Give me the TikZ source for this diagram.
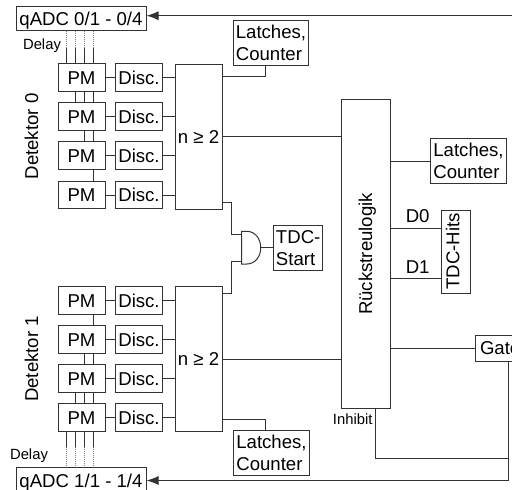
\documentclass[tikz,border=0pt]{standalone}
\usepackage{fontspec}
\setmainfont{Liberation Sans}
\usetikzlibrary{calc, arrows.meta}
\tikzset{
    wire/.style={line width=1pt, draw=black!80},
    delayline/.style={line width=1pt, draw=black!50, dash pattern=on 1pt off 1pt},
    box/.style={wire, rectangle, inner sep=0pt, font=\fontsize{18.6}{22}\selectfont, text height=13.4pt, text depth=0pt},
    pmbox/.style={box, minimum width=47pt, minimum height=27.5pt},
    latchbox/.style={wire, rectangle, inner sep=0pt, minimum width=75.5pt, minimum height=45pt, align=left, font=\fontsize{18.6}{22}\selectfont},
    label/.style={inner sep=0pt, font=\fontsize{18.6}{22}\selectfont, text height=13.4pt, text depth=0pt},
    smalllabel/.style={inner sep=0pt, font=\fontsize{14.8}{16}\selectfont, text height=10.6pt, text depth=0pt},
    arrowin/.style={wire, {Latex[length=12pt,width=9pt]}-},
}
\begin{document}
\begin{tikzpicture}[x=1pt, y=-1pt]
    \path[use as bounding box, clip] (0,0) rectangle (512,490);
    \fill[white] (0,0) rectangle (512,490);
    % qADC boxes
    \node[box, minimum width=130pt, minimum height=23.5pt] (qtop) at (81,18.5) {qADC 0/1 - 0/4};
    \node[box, minimum width=130pt, minimum height=27pt] (qbot) at (81,480.5) {qADC 1/1 - 1/4};
    % PMs and discriminators
    \foreach \name/\ypos in {a/77.5, b/116.5, c/155.5, d/195, e/300.5, f/339.5, g/378.5, h/417.5} {
        \node[pmbox] (pm\name) at (81.5,\ypos) {PM};
        \node[pmbox] (disc\name) at (139,\ypos) {Disc.};
        \draw[wire] (pm\name) -- (disc\name);
    }
    % Coincidence units
    \node[box, minimum width=47pt, minimum height=145pt] (ntop) at (198.5,136.5) {n ≥ 2};
    \node[box, minimum width=47pt, minimum height=144.5pt] (nbot) at (198.5,359) {n ≥ 2};
    \foreach \name in {a,b,c,d} \draw[wire] (disc\name) -- (ntop.west |- disc\name);
    \foreach \name in {e,f,g,h} \draw[wire] (disc\name) -- (nbot.west |- disc\name);
    % Delay lines
    \coordinate (dl1) at (66,48);
    \coordinate (dl2) at (75,48);
    \coordinate (dl3) at (84,48);
    \coordinate (dl4) at (93,48);
    \coordinate (dk1) at (66,447);
    \coordinate (dk2) at (75,447);
    \coordinate (dk3) at (84,447);
    \coordinate (dk4) at (93,447);
    \foreach \i in {1,2,3,4} {
        \draw[delayline] (qtop.south -| dl\i) -- (dl\i);
        \draw[wire] (dl\i) -- (dl\i |- pma.north);
        \draw[delayline] (dk\i) -- (dk\i |- qbot.north);
        \draw[wire] (dk\i) -- (dk\i |- pmh.south);
    }
    \foreach \i in {2,3,4} {
        \draw[wire] (dl\i |- pma.south) -- (dl\i |- pmb.north);
        \draw[wire] (dk\i |- pmg.south) -- (dk\i |- pmh.north);
    }
    \foreach \i in {3,4} {
        \draw[wire] (dl\i |- pmb.south) -- (dl\i |- pmc.north);
        \draw[wire] (dk\i |- pmf.south) -- (dk\i |- pmg.north);
    }
    \draw[wire] (dl4 |- pmc.south) -- (dl4 |- pmd.north);
    \draw[wire] (dk4 |- pme.south) -- (dk4 |- pmf.north);
    \node[smalllabel] (delaytop) at (42,44) {Delay};
    \node[smalllabel] (delaybot) at (29,454) {Delay};
    \node[label, rotate=90] (dettop) at (31.5,136.5) {Detektor 0};
    \node[label, rotate=90] (detbot) at (31.5,359) {Detektor 1};
    % Latches and counters
    \node[latchbox] (latchtop) at (271,42.5) {Latches,\\Counter};
    \node[latchbox] (latchbot) at (271.5,452.5) {Latches,\\Counter};
    \node[latchbox] (latchmid) at (468.5,161) {Latches,\\Counter};
    \coordinate (outtop) at (222,76.5);
    \coordinate (outbot) at (222,419);
    \draw[wire] (outtop) -| ($(latchtop.south)+(-5.5,0)$);
    \draw[wire] (outbot) -| ($(latchbot.north)+(-6,0)$);
    % Main logic
    \node[box, minimum width=49pt, minimum height=309pt] (logic) at (365.5,254) {};
    \node[label, rotate=90] (logictext) at (logic) {Rückstreulogik};
    \coordinate (ltop) at (logic.west |- 0,136.5);
    \coordinate (lbot) at (logic.west |- 0,359);
    \draw[wire] (ntop.east |- ltop) -- (ltop);
    \draw[wire] (nbot.east |- lbot) -- (lbot);
    \draw[wire] (logic.east |- latchmid) -- (latchmid);
    % TDC hits
    \node[wire, rectangle, inner sep=0pt, minimum width=29pt, minimum height=82.5pt] (hits) at (455.8,252) {};
    \node[label, rotate=90] (hitstext) at (452.7,251.5) {TDC-Hits};
    \coordinate (hit0) at (hits.west |- 0,228.7);
    \coordinate (hit1) at (hits.west |- 0,278);
    \draw[wire] (logic.east |- hit0) -- (hit0);
    \draw[wire] (logic.east |- hit1) -- (hit1);
    \node[label] (labelzero) at (417.7,216) {D0};
    \node[label] (labelone) at (417.7,266.5) {D1};
    % Gate output
    \node[box, minimum width=60pt, minimum height=26pt, text width=50pt, align=left] (gatebox) at (505,348) {Gate};
    \draw[wire] (logic.east |- gatebox) -- (gatebox.west);
    \coordinate (gatedrop) at (508.7,361);
    \coordinate (inhibitfoot) at (375.3,458);
    \draw[arrowin] (qbot.east) -- (qbot.east -| gatedrop) -- (gatedrop);
    \draw[wire] (logic.south -| inhibitfoot) -- (inhibitfoot) -- (inhibitfoot -| gatedrop);
    \node[smalllabel] (inhibit) at (352.7,419.3) {Inhibit};
    \coordinate (feedin) at (512,15.7);
    \draw[arrowin] (qtop.east |- feedin) -- (feedin);
    % TDC start coincidence
    \coordinate (andtop) at (241.7,234);
    \coordinate (andbot) at (241.7,261.3);
    \coordinate (andout) at (260.7,247.7);
    \coordinate (feedtop) at (231.3,202.5);
    \coordinate (feedbot) at (231.3,293.3);
    \filldraw[wire, fill=white] (241.7,231.3) -- (247,231.3) .. controls (255.5,231.5) and (260.7,239) .. (andout)
        .. controls (260.7,256.5) and (255.5,263.7) .. (247,264) -- (241.7,264) -- cycle;
    \node[latchbox, minimum width=49pt, minimum height=44.5pt] (tdcstart) at (298.2,248) {TDC-\\Start};
    \draw[wire] (ntop.east |- feedtop) -- (feedtop) |- (andtop);
    \draw[wire] (nbot.east |- feedbot) -- (feedbot) |- (andbot);
    \draw[wire] (andout) -- (tdcstart.west |- andout);
\end{tikzpicture}
\end{document}
